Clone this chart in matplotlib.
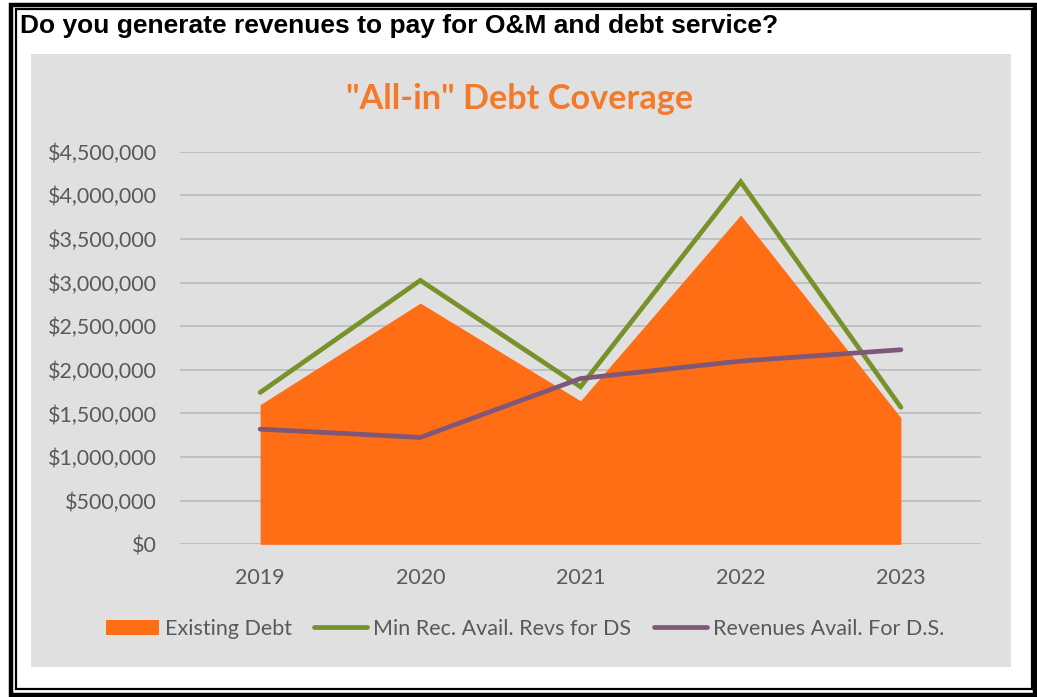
import matplotlib.pyplot as plt
from matplotlib.lines import Line2D
from matplotlib.patches import Patch, Rectangle
from matplotlib.ticker import FuncFormatter

years = ["2019", "2020", "2021", "2022", "2023"]
existing_debt = [1600000, 2765000, 1645000, 3775000, 1450000]
min_rec_revs = [1740000, 3025000, 1805000, 4155000, 1570000]
revs_avail = [1320000, 1225000, 1900000, 2100000, 2230000]

ORANGE = "#FF6D14"
GREEN = "#77922A"
PURPLE = "#7F5779"
TEXT_GRAY = "#595959"
W, H = 1037, 697
FS = 15.5

fig = plt.figure(figsize=(W / 100, H / 100), dpi=100)
fig.patch.set_facecolor("white")


def fig_rect(x0, y0, x1, y1, **kw):
    # pixel box (top-left origin) -> figure fraction rectangle
    return Rectangle((x0 / W, 1 - y1 / H), (x1 - x0) / W, (y1 - y0) / H,
                     transform=fig.transFigure, **kw)


# chart area and the double frame around the slide
fig.patches.append(fig_rect(31, 54, 1011, 667, facecolor="#E0E0E0", edgecolor="none", zorder=-2))
fig.patches.append(fig_rect(11, 5, 1035, 695, facecolor="none", edgecolor="black", lw=3.2, zorder=5))
fig.patches.append(fig_rect(16, 9, 1032, 689, facecolor="none", edgecolor="black", lw=1.6, zorder=5))

fig.text(20 / W, 1 - 26 / H, "Do you generate revenues to pay for O&M and debt service?",
         fontfamily="Liberation Sans", fontweight="bold", fontsize=19,
         va="center", ha="left", color="black")
fig.text(520 / W, 1 - 99 / H, '"All-in" Debt Coverage', fontfamily="Lato",
         fontweight="bold", fontsize=24.7, color="#F47A2A", ha="center", va="center")

ax = fig.add_axes([180 / W, 1 - 544.3 / H, 801 / W, 392.6 / H])
ax.set_facecolor("none")
x = list(range(len(years)))

ax.fill_between(x, existing_debt, 0, color=ORANGE, lw=0, zorder=2)
ax.plot(x, min_rec_revs, color=GREEN, lw=3.4, solid_capstyle="round",
        solid_joinstyle="miter", zorder=3)
ax.plot(x, revs_avail, color=PURPLE, lw=3.4, solid_capstyle="round", zorder=4)

ax.set_xlim(-0.5, len(years) - 0.5)
ax.set_ylim(0, 4500000)
ax.set_yticks(range(0, 4500001, 500000))
ax.yaxis.set_major_formatter(FuncFormatter(lambda v, _: f"${v:,.0f}"))
ax.set_xticks(x)
ax.set_xticklabels(years)
ax.grid(axis="y", color="#BEBEBE", lw=1.3, zorder=1)
ax.set_axisbelow(True)
for s in ax.spines.values():
    s.set_visible(False)
ax.tick_params(length=0, labelsize=FS, labelcolor=TEXT_GRAY)
for lab in ax.get_xticklabels() + ax.get_yticklabels():
    lab.set_fontfamily("Lato")
ax.tick_params(axis="x", pad=17)
ax.tick_params(axis="y", pad=16.5)

handles = [
    Patch(facecolor=ORANGE, edgecolor="none"),
    Line2D([0], [0], color=GREEN, lw=3.4, solid_capstyle="round"),
    Line2D([0], [0], color=PURPLE, lw=3.4, solid_capstyle="round"),
]
labels = ["Existing Debt", "Min Rec. Avail. Revs for DS", "Revenues Avail. For D.S."]
fig.legend(handles, labels, loc="center", bbox_to_anchor=(525 / W, 1 - 629 / H), ncol=3,
           frameon=False, prop={"family": "Lato", "size": FS}, labelcolor=TEXT_GRAY,
           handlelength=2.45, handleheight=0.75, handletextpad=0.28, columnspacing=1.05)

fig.savefig("out.png", dpi=100, facecolor="white")
